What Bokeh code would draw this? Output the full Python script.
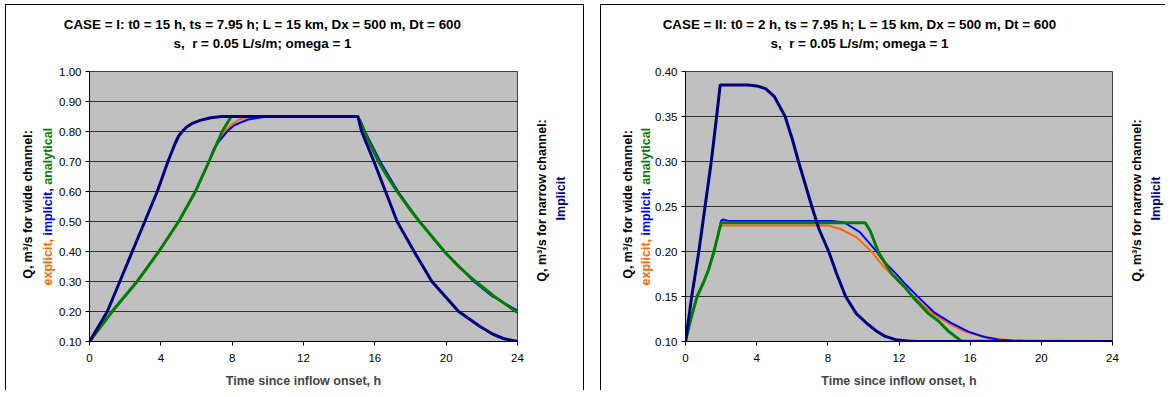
import math
from bokeh.plotting import figure
from bokeh.models import Range1d, Label, FixedTicker, NumeralTickFormatter
from bokeh.layouts import row, column
from bokeh.embed import file_html
from bokeh.resources import INLINE

# ---------------- data: CASE I ----------------
x_ticks = [0, 4, 8, 12, 16, 20, 24]
y_ticks_I = [0.10, 0.20, 0.30, 0.40, 0.50, 0.60, 0.70, 0.80, 0.90, 1.00]
y_ticks_II = [0.10, 0.15, 0.20, 0.25, 0.30, 0.35, 0.40]

t_I_explicit = [0, 1.3, 2.68, 3.9, 5.02, 5.95, 6.72, 7.2, 7.6, 8.0, 8.4, 8.9, 9.5, 15.0, 15.25, 15.45, 16.25, 17.3, 18.5, 19.9, 21.6, 22.7, 24]
q_I_explicit = [0.10, 0.20, 0.30, 0.40, 0.50, 0.60, 0.70, 0.77, 0.80, 0.825, 0.84, 0.848, 0.85, 0.85, 0.83, 0.80, 0.70, 0.60, 0.50, 0.40, 0.30, 0.25, 0.198]

t_I_implicit = [0, 1.25, 2.66, 3.88, 5.0, 5.93, 6.7, 6.95, 7.3, 7.72, 8.1, 8.47, 8.9, 9.4, 10.0, 15.0, 15.2, 15.45, 16.3, 17.3, 18.5, 19.9, 21.55, 22.6, 24]
q_I_implicit = [0.10, 0.20, 0.30, 0.40, 0.50, 0.60, 0.70, 0.74, 0.77, 0.80, 0.82, 0.83, 0.84, 0.845, 0.85, 0.85, 0.835, 0.80, 0.70, 0.60, 0.50, 0.40, 0.30, 0.25, 0.203]

t_I_analytical = [0, 1.27, 2.67, 3.89, 5.0, 5.94, 6.7, 7.44, 7.95, 15.05, 15.2, 15.4, 15.8, 16.2, 16.7, 17.25, 17.85, 18.5, 19.2, 19.9, 20.7, 21.65, 22.7, 24]
q_I_analytical = [0.10, 0.20, 0.30, 0.40, 0.50, 0.60, 0.70, 0.80, 0.85, 0.85, 0.83, 0.80, 0.75, 0.70, 0.65, 0.60, 0.55, 0.50, 0.45, 0.40, 0.35, 0.30, 0.25, 0.197]

t_I_narrow = [0, 0.5, 1.0, 1.7, 2.4, 3.1, 3.8, 4.4, 4.8, 5.0, 5.2, 5.45, 5.8, 6.2, 6.8, 7.4, 15.05, 15.26, 15.95, 16.6, 17.25, 18.2, 19.2, 20.7, 21.9, 22.6, 23.2, 24]
q_I_narrow = [0.10, 0.15, 0.20, 0.30, 0.40, 0.50, 0.60, 0.70, 0.76, 0.785, 0.80, 0.815, 0.828, 0.837, 0.846, 0.85, 0.85, 0.80, 0.70, 0.60, 0.50, 0.40, 0.30, 0.20, 0.15, 0.125, 0.11, 0.10]

# ---------------- data: CASE II ----------------
t_II_explicit = [0, 0.3, 0.65, 1.0, 1.3, 1.6, 1.85, 2.0, 8.0, 8.7, 9.6, 10.45, 11.1, 11.6, 12.2, 12.8, 13.9, 14.8, 15.7, 16.6, 17.5, 18.3, 19.5, 24]
q_II_explicit = [0.10, 0.125, 0.15, 0.165, 0.18, 0.20, 0.22, 0.229, 0.229, 0.225, 0.216, 0.20, 0.184, 0.174, 0.162, 0.15, 0.131, 0.12, 0.111, 0.106, 0.103, 0.1015, 0.1003, 0.10]

t_II_implicit = [0, 0.3, 0.65, 1.0, 1.3, 1.6, 1.85, 2.0, 2.1, 2.4, 8.2, 8.9, 9.8, 10.7, 11.1, 11.8, 12.4, 13.0, 14.0, 14.9, 15.9, 16.8, 17.6, 18.4, 19.5, 24]
q_II_implicit = [0.10, 0.125, 0.15, 0.165, 0.18, 0.20, 0.22, 0.234, 0.2355, 0.234, 0.234, 0.2325, 0.2215, 0.201, 0.19, 0.176, 0.163, 0.151, 0.132, 0.121, 0.111, 0.105, 0.102, 0.1008, 0.1002, 0.10]

t_II_analytical = [0, 0.3, 0.65, 1.0, 1.3, 1.6, 1.85, 2.0, 10.1, 10.38, 10.85, 11.6, 12.35, 12.8, 13.66, 14.2, 14.8, 15.5, 24]
q_II_analytical = [0.10, 0.125, 0.15, 0.165, 0.18, 0.20, 0.22, 0.232, 0.232, 0.223, 0.199, 0.175, 0.16, 0.149, 0.131, 0.123, 0.111, 0.1006, 0.10]

t_II_narrow = [0, 0.35, 0.75, 1.1, 1.45, 1.75, 1.95, 3.5, 4.0, 4.5, 5.0, 5.6, 6.0, 6.35, 7.1, 7.5, 8.05, 8.5, 9.0, 9.6, 10.2, 10.7, 11.2, 11.8, 12.5, 13.0, 24]
q_II_narrow = [0.10, 0.15, 0.20, 0.25, 0.30, 0.35, 0.385, 0.385, 0.384, 0.381, 0.372, 0.35, 0.325, 0.30, 0.25, 0.225, 0.20, 0.175, 0.15, 0.131, 0.12, 0.112, 0.106, 0.102, 0.1005, 0.10, 0.10]

title_I = ["CASE = I: t0 = 15 h, ts = 7.95 h; L = 15 km, Dx = 500 m, Dt = 600", "s, \u00a0r = 0.05 L/s/m; omega = 1"]
title_II = ["CASE = II: t0 = 2 h, ts = 7.95 h; L = 15 km, Dx = 500 m, Dt = 600", "s, \u00a0r = 0.05 L/s/m; omega = 1"]
x_label = "Time since inflow onset, h"
y_label_wide = "Q, m\u00b3/s for wide channel:"
y_label_narrow = "Q, m\u00b3/s for narrow channel:"
wide_parts = ["explicit,", "implicit,", "analytical"]
wide_colors = ["#FF6600", "#0000FF", "#008000"]
narrow_part = "Implicit"

C_EXPL, C_IMPL, C_ANAL, C_NARROW = "#FF6600", "#0000FF", "#008000", "#000080"
FONT = "Liberation Sans"
H = 386
FH = 270  # frame height


def make_panel(width, mb_left, mb_right, y0, y1, yticks, series, styles):
    p = figure(width=width, height=H, x_range=Range1d(0, 24), y_range=Range1d(y0, y1),
               output_backend="svg", toolbar_location=None,
               min_border_left=mb_left, min_border_right=mb_right,
               min_border_top=66, min_border_bottom=H - 66 - FH)
    p.background_fill_color = "#C0C0C0"
    p.border_fill_color = "white"
    p.outline_line_color = "#404040"
    p.outline_line_width = 1
    p.xgrid.grid_line_color = None
    p.ygrid.grid_line_color = "#303030"
    p.ygrid.grid_line_width = 1
    p.xaxis.ticker = FixedTicker(ticks=x_ticks)
    p.yaxis.ticker = FixedTicker(ticks=yticks)
    p.yaxis.formatter = NumeralTickFormatter(format="0.00")
    for ax in (p.xaxis[0], p.yaxis[0]):
        ax.axis_line_color = "black"
        ax.major_tick_line_color = "black"
        ax.major_tick_out = 4
        ax.major_tick_in = 0
        ax.minor_tick_line_color = None
        ax.major_label_text_font = FONT
        ax.major_label_text_font_size = "11.5px"
        ax.major_label_text_color = "black"
    p.yaxis.major_label_standoff = 4
    p.xaxis.major_label_standoff = 8
    p.xaxis.axis_label = x_label
    p.xaxis.axis_label_text_font = FONT
    p.xaxis.axis_label_text_font_style = "bold"
    p.xaxis.axis_label_text_font_size = "12.5px"
    p.xaxis.axis_label_standoff = 9
    for (t, q, c, w) in series:
        p.line(t, q, line_color=c, line_width=w)
    p.styles = styles
    return p


series_I = [(t_I_explicit, q_I_explicit, C_EXPL, 2),
            (t_I_implicit, q_I_implicit, C_IMPL, 2),
            (t_I_analytical, q_I_analytical, C_ANAL, 3),
            (t_I_narrow, q_I_narrow, C_NARROW, 3)]
series_II = [(t_II_explicit, q_II_explicit, C_EXPL, 2),
             (t_II_implicit, q_II_implicit, C_IMPL, 2),
             (t_II_analytical, q_II_analytical, C_ANAL, 3),
             (t_II_narrow, q_II_narrow, C_NARROW, 3)]

b = "1px solid black"
p1 = make_panel(579, 83, 68, 0.10, 1.00, y_ticks_I, series_I,
                {"border-left": b, "border-top": b, "border-right": b})
p2 = make_panel(565, 84, 54, 0.10, 0.40, y_ticks_II, series_II,
                {"border-left": b, "border-top": b})
charts = row(p1, p2, spacing=16, margin=(4, 0, 0, 5))

# ---- transparent text layer laid over both charts (page-pixel coordinates) ----
OW, OH = 1163, 387
ov = figure(width=OW, height=OH, x_range=Range1d(5, 5 + OW), y_range=Range1d(4 + OH, 4),
            output_backend="svg", toolbar_location=None, title=None,
            x_axis_location=None, y_axis_location=None, min_border=0,
            margin=(-(H + 1), 0, 0, 5))
ov.background_fill_color = None
ov.border_fill_color = None
ov.outline_line_color = None
ov.grid.visible = False
for g in ov.renderers:
    pass
for r in list(ov.center):
    r.visible = False


def lab(text, x, y, color="black", size="12.5px", angle=0.0, align="center"):
    ov.add_layout(Label(x=x, y=y, text=text, text_color=color, text_font=FONT,
                        text_font_style="bold", text_font_size=size, angle=angle,
                        text_align=align, text_baseline="middle"))


A = math.pi / 2
SZ = 12.5
# approximate Liberation Sans Bold advance widths (per 1000 em) for word placement
ADV = {"e": 556, "x": 556, "p": 611, "l": 278, "i": 278, "c": 556, "t": 333, ",": 278,
       "m": 889, "a": 556, "n": 611, "y": 556, " ": 278}


def word_w(s):
    return sum(ADV.get(ch, 556) for ch in s) * SZ / 1000.0


for (tt, tx, ylx, cx, rx, ix) in [(title_I, 262, 27, 47, 541, 560),
                                  (title_II, 859, 627, 645, 1136, 1155)]:
    lab(tt[0], tx, 25, size="13.4px")
    lab(tt[1], tx, 43.5, size="13.4px")
    lab(y_label_wide, ylx, 205, angle=A)
    ystart = 286.0
    for word, col in zip(wide_parts, wide_colors):
        lab(word, cx, ystart, color=col, angle=A, align="left")
        ystart -= word_w(word + " ")
    lab(y_label_narrow, rx, 201, angle=A)
    lab(narrow_part, ix, 199, color=C_NARROW, angle=A)

layout = column(charts, ov)
open("out.html", "w").write(file_html(layout, INLINE))
